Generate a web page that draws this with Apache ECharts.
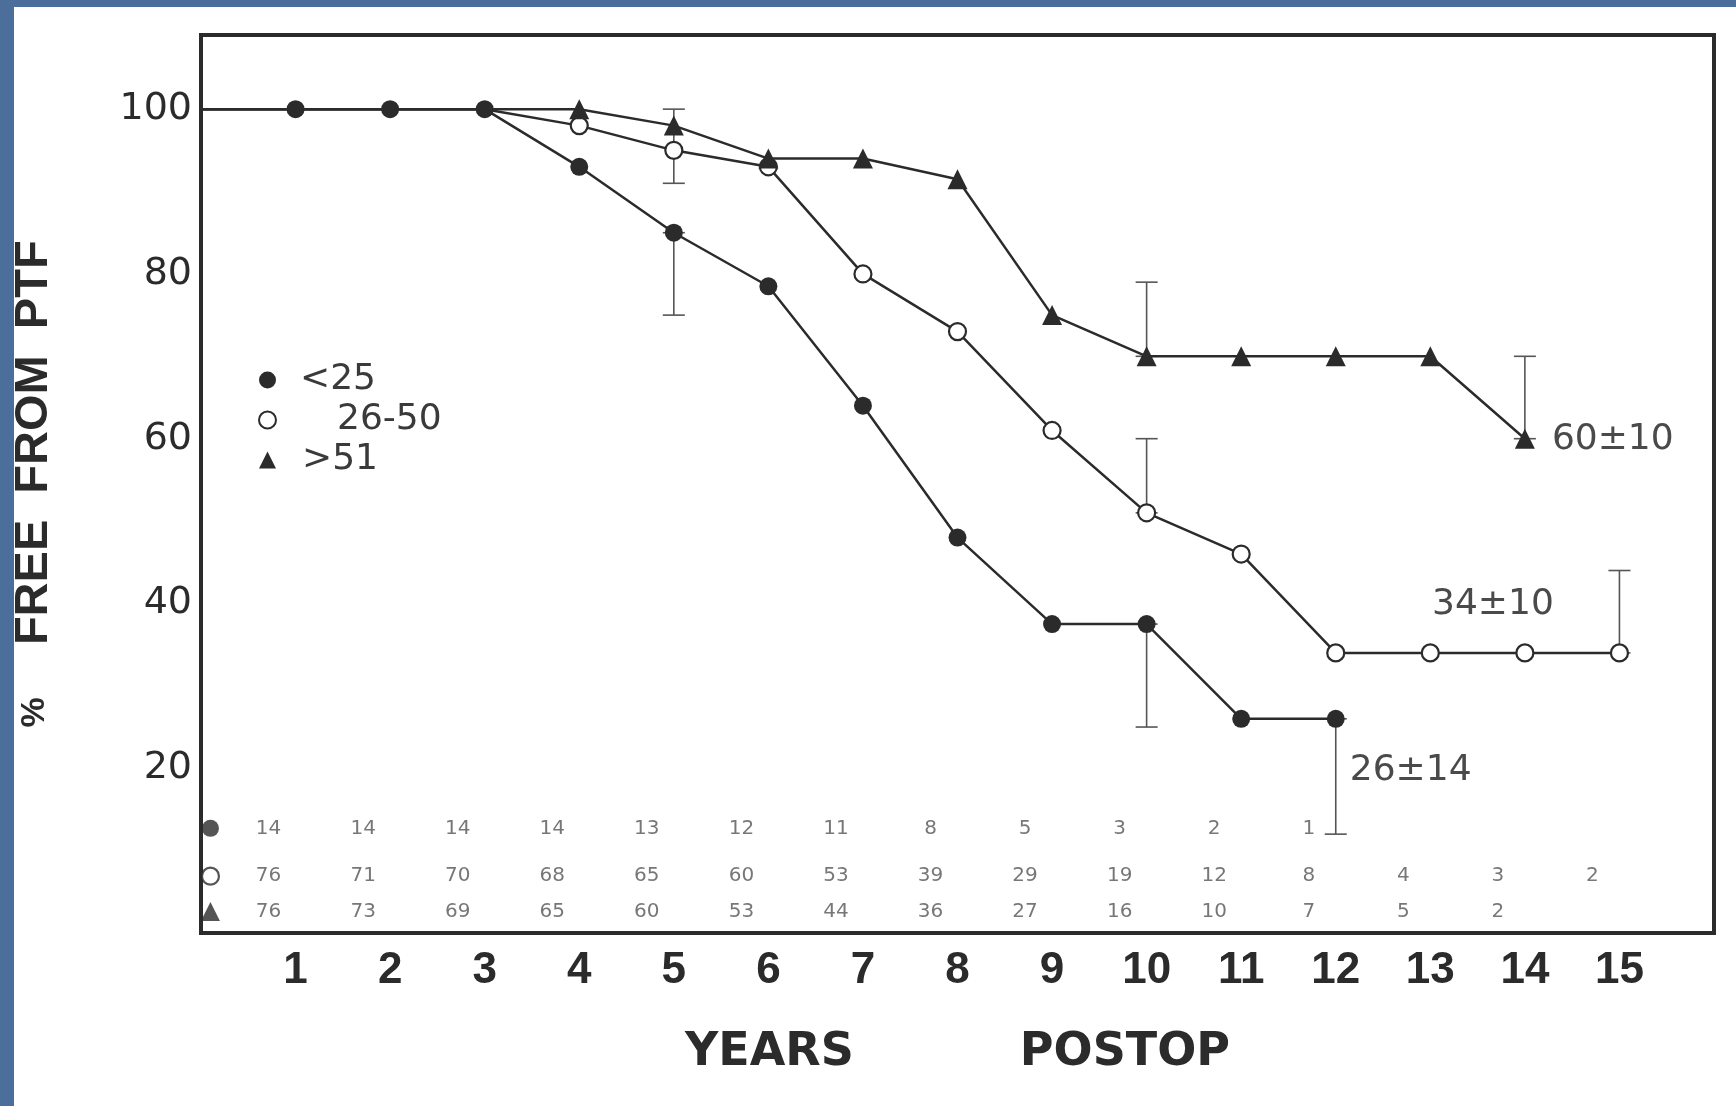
<!DOCTYPE html>
<html><head><meta charset="utf-8">
<script src="https://cdn.jsdelivr.net/npm/echarts@6/dist/echarts.min.js"></script>
<style>
html,body{margin:0;padding:0;width:1736px;height:1106px;overflow:hidden;background:#4b6f9a;}
#chart{position:absolute;left:14px;top:7px;width:1722px;height:1099px;background:#fff;}
</style></head><body><div id="chart"></div>
<script>
// ---- data ----
const seriesNames = ['<25', '26-50', '>51'];
const xTickLabels = [1,2,3,4,5,6,7,8,9,10,11,12,13,14,15];
const yTickLabels = [20,40,60,80,100];
// % free from PTF, years 0..n
const freeLt25   = [100,100,100,100,93,85,78.5,64,48,37.5,37.5,26,26];
const free26to50 = [100,100,100,100,98,95,93,80,73,61,51,46,34,34,34,34];
const freeGt51   = [100,100,100,100,100,98,94,94,91.5,75,70,70,70,70,60];
// error bars: [year, low, high]
const errLt25   = [[5,75,85],[10,25,37.5],[12,12,26]];
const err26to50 = [[5,91,100],[10,51,60],[15,34,44]];
const errGt51   = [[10,70,79],[14,60,70]];
// number at risk, years 1..n
const atRiskLt25   = [14,14,14,14,13,12,11,8,5,3,2,1];
const atRisk26to50 = [76,71,70,68,65,60,53,39,29,19,12,8,4,3,2];
const atRiskGt51   = [76,73,69,65,60,53,44,36,27,16,10,7,5,2];
// final-value annotations
const endLabelText = ['26±14', '34±10', '60±10'];

// ---- styling ----
const INK = '#2b2b2b';
const SOFT = '#4a4a4a';
const styles = [
  {symbol:'circle', size:18, item:{color:INK}, firstMarker:1,
   endLabel:{position:'right', offset:[0,52]}, row:12.7, icon:'circle', legendPad:19},
  {symbol:'circle', size:17, item:{color:'#fff', borderColor:INK, borderWidth:2.2}, firstMarker:4,
   endLabel:{position:'left', offset:[-51,-48]}, row:6.9, icon:'circle', legendPad:56},
  {symbol:'triangle', size:20, item:{color:INK}, firstMarker:4,
   endLabel:{position:'right', offset:[12,1]}, row:2.6, icon:'triangle', legendPad:21}
];
const curves = [freeLt25, free26to50, freeGt51];
const risks = [atRiskLt25, atRisk26to50, atRiskGt51];

const series = [];
// error bars
series.push({
  type:'custom', name:'err', silent:true, z:1,
  encode:{x:0, y:[1,2]},
  data:[].concat(errLt25, err26to50, errGt51),
  renderItem:(params, api) => {
    const x = api.value(0), lo = api.value(1), hi = api.value(2);
    const a = api.coord([x, lo]), b = api.coord([x, hi]);
    const hw = 11, st = {stroke:'#555', lineWidth:1.6};
    return {type:'group', children:[
      {type:'line', shape:{x1:a[0], y1:a[1], x2:b[0], y2:b[1]}, style:st},
      {type:'line', shape:{x1:a[0]-hw, y1:a[1], x2:a[0]+hw, y2:a[1]}, style:st},
      {type:'line', shape:{x1:b[0]-hw, y1:b[1], x2:b[0]+hw, y2:b[1]}, style:st}
    ]};
  }
});
// survival curves
curves.forEach((vals, k) => {
  const s = styles[k];
  const last = vals.length - 1;
  series.push({
    type:'line', name:seriesNames[k], z:3 + k,
    symbol:s.symbol, symbolSize:s.size, itemStyle:s.item,
    lineStyle:{color:INK, width:2.5},
    label:{show:false},
    data: vals.map((v, i) => {
      const d = {value:[i, v]};
      if (i < s.firstMarker) d.symbol = 'none';
      if (i === last) d.label = {show:true, formatter:endLabelText[k], position:s.endLabel.position,
        offset:s.endLabel.offset, fontFamily:'DejaVu Sans', fontSize:36, color:SOFT};
      return d;
    })
  });
});
// number-at-risk rows
risks.forEach((arr, k) => {
  const s = styles[k];
  const data = [{value:[0.1, s.row, ''], symbol:s.icon, symbolSize: s.icon === 'triangle' ? 19 : 17,
                 itemStyle:s.item, label:{show:false}}];
  arr.forEach((n, i) => data.push({value:[i + 1, s.row, n]}));
  series.push({
    type:'scatter', name:'risk' + k, silent:true, z:2, clip:false,
    symbol:'circle', symbolSize:1, itemStyle:{color:'rgba(0,0,0,0)'},
    label:{show:true, position:'inside', offset:[-27,0], formatter:p => p.value[2],
           fontFamily:'DejaVu Sans', fontSize:20, color:'#555'},
    data
  });
});

const legendRich = {};
styles.forEach((s, k) => {
  legendRich['t' + k] = {padding:[0,0,0,s.legendPad], fontFamily:'DejaVu Sans', fontSize:36, color:'#3a3a3a'};
});

const chart = echarts.init(document.getElementById('chart'));
chart.setOption({
  animation:false,
  backgroundColor:'#fff',
  grid:{left:187, right:22, top:28, bottom:173, show:true, borderColor:INK, borderWidth:4,
        containLabel:false, outerBoundsMode:'none'},
  legend:{
    orient:'vertical', left:239, top:350, itemWidth:17, itemHeight:17, itemGap:4,
    selectedMode:false,
    data:[
      {name:seriesNames[0], icon:'circle', itemStyle:{color:INK, borderWidth:0}},
      {name:seriesNames[1], icon:'circle', itemStyle:{color:'#fff', borderColor:INK, borderWidth:2}},
      {name:seriesNames[2], icon:'triangle', itemStyle:{color:INK, borderWidth:0}}
    ],
    formatter: n => '{t' + seriesNames.indexOf(n) + '|' + n + '}',
    textStyle:{fontFamily:'DejaVu Sans', fontSize:36, lineHeight:36, color:'#3a3a3a', rich:legendRich}
  },
  xAxis:{
    type:'value', min:0, max:16, interval:1,
    axisLine:{show:false}, axisTick:{show:false}, splitLine:{show:false},
    axisLabel:{margin:16, formatter:v => xTickLabels.includes(v) ? String(v) : '',
      fontFamily:'Liberation Sans', fontWeight:'bold', fontSize:44, color:INK},
    name:'{a|YEARS}{b|POSTOP}', nameLocation:'middle', nameGap:97,
    nameTextStyle:{rich:{
      a:{fontFamily:'DejaVu Sans', fontWeight:'bold', fontSize:46, color:INK},
      b:{fontFamily:'DejaVu Sans', fontWeight:'bold', fontSize:46, color:INK, padding:[0,0,0,166]}
    }}
  },
  yAxis:{
    type:'value', min:0, max:109, interval:20,
    axisLine:{show:false}, axisTick:{show:false}, splitLine:{show:false},
    axisLabel:{margin:9, formatter:v => yTickLabels.includes(v) ? String(v) : '',
      fontFamily:'DejaVu Sans', fontSize:38, color:INK},
    name:'{pct|%}    FREE  FROM  PTF', nameLocation:'middle', nameRotate:90, nameGap:143,
    nameTextStyle:{fontFamily:'Liberation Sans', fontWeight:'bold', fontSize:47, color:INK,
      rich:{pct:{fontFamily:'Liberation Sans', fontSize:34, color:INK}}}
  },
  series
});
</script></body></html>
